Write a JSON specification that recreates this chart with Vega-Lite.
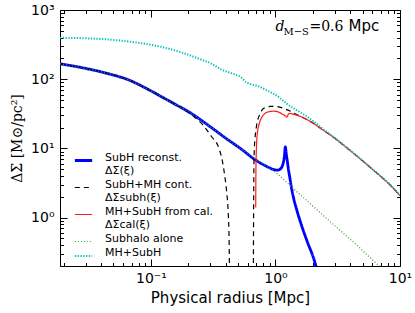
{
  "$schema": "https://vega.github.io/schema/vega-lite/v6.json",
  "width": 340,
  "height": 256,
  "autosize": {"type": "none"},
  "padding": {"left": 60, "top": 10, "right": 15, "bottom": 47},
  "config": {
    "view": {"stroke": "black", "strokeWidth": 1},
    "axis": {"grid": false, "domain": false, "tickColor": "black", "labelColor": "black", "titleColor": "black", "labelFont": "DejaVu Sans", "labelFontSize": 14, "titleFontWeight": "normal", "tickWidth": 1}
  },
  "data": {"values": [
    {"s": "SubH reconst.| ΔΣ(ξ)", "seg": 1, "r": 0.0186, "v": 167},
    {"s": "SubH reconst.| ΔΣ(ξ)", "seg": 1, "r": 0.03, "v": 143},
    {"s": "SubH reconst.| ΔΣ(ξ)", "seg": 1, "r": 0.048, "v": 117},
    {"s": "SubH reconst.| ΔΣ(ξ)", "seg": 1, "r": 0.065, "v": 99},
    {"s": "SubH reconst.| ΔΣ(ξ)", "seg": 1, "r": 0.09, "v": 75},
    {"s": "SubH reconst.| ΔΣ(ξ)", "seg": 1, "r": 0.12, "v": 56.5},
    {"s": "SubH reconst.| ΔΣ(ξ)", "seg": 1, "r": 0.16, "v": 42.5},
    {"s": "SubH reconst.| ΔΣ(ξ)", "seg": 1, "r": 0.2, "v": 34},
    {"s": "SubH reconst.| ΔΣ(ξ)", "seg": 1, "r": 0.3, "v": 20.5},
    {"s": "SubH reconst.| ΔΣ(ξ)", "seg": 1, "r": 0.4, "v": 14},
    {"s": "SubH reconst.| ΔΣ(ξ)", "seg": 1, "r": 0.53, "v": 9.8},
    {"s": "SubH reconst.| ΔΣ(ξ)", "seg": 1, "r": 0.7, "v": 6.7},
    {"s": "SubH reconst.| ΔΣ(ξ)", "seg": 1, "r": 0.85, "v": 5.5},
    {"s": "SubH reconst.| ΔΣ(ξ)", "seg": 1, "r": 0.95, "v": 5.0},
    {"s": "SubH reconst.| ΔΣ(ξ)", "seg": 1, "r": 1.04, "v": 4.85},
    {"s": "SubH reconst.| ΔΣ(ξ)", "seg": 1, "r": 1.1, "v": 5.1},
    {"s": "SubH reconst.| ΔΣ(ξ)", "seg": 1, "r": 1.15, "v": 6.0},
    {"s": "SubH reconst.| ΔΣ(ξ)", "seg": 1, "r": 1.18, "v": 7.8},
    {"s": "SubH reconst.| ΔΣ(ξ)", "seg": 1, "r": 1.2, "v": 10.5},
    {"s": "SubH reconst.| ΔΣ(ξ)", "seg": 1, "r": 1.22, "v": 8.4},
    {"s": "SubH reconst.| ΔΣ(ξ)", "seg": 1, "r": 1.25, "v": 6.2},
    {"s": "SubH reconst.| ΔΣ(ξ)", "seg": 1, "r": 1.27, "v": 5.0},
    {"s": "SubH reconst.| ΔΣ(ξ)", "seg": 1, "r": 1.3, "v": 3.9},
    {"s": "SubH reconst.| ΔΣ(ξ)", "seg": 1, "r": 1.35, "v": 2.6},
    {"s": "SubH reconst.| ΔΣ(ξ)", "seg": 1, "r": 1.4, "v": 1.9},
    {"s": "SubH reconst.| ΔΣ(ξ)", "seg": 1, "r": 1.5, "v": 1.2},
    {"s": "SubH reconst.| ΔΣ(ξ)", "seg": 1, "r": 1.62, "v": 0.77},
    {"s": "SubH reconst.| ΔΣ(ξ)", "seg": 1, "r": 1.8, "v": 0.45},
    {"s": "SubH reconst.| ΔΣ(ξ)", "seg": 1, "r": 2.06, "v": 0.234},
    {"s": "SubH reconst.| ΔΣ(ξ)", "seg": 1, "r": 2.2, "v": 0.15},

    {"s": "SubH+MH cont.| ΔΣsubh(ξ)", "seg": 1, "r": 0.0186, "v": 167},
    {"s": "SubH+MH cont.| ΔΣsubh(ξ)", "seg": 1, "r": 0.03, "v": 143},
    {"s": "SubH+MH cont.| ΔΣsubh(ξ)", "seg": 1, "r": 0.048, "v": 117},
    {"s": "SubH+MH cont.| ΔΣsubh(ξ)", "seg": 1, "r": 0.065, "v": 99},
    {"s": "SubH+MH cont.| ΔΣsubh(ξ)", "seg": 1, "r": 0.09, "v": 75},
    {"s": "SubH+MH cont.| ΔΣsubh(ξ)", "seg": 1, "r": 0.12, "v": 56.5},
    {"s": "SubH+MH cont.| ΔΣsubh(ξ)", "seg": 1, "r": 0.16, "v": 42.5},
    {"s": "SubH+MH cont.| ΔΣsubh(ξ)", "seg": 1, "r": 0.19, "v": 35},
    {"s": "SubH+MH cont.| ΔΣsubh(ξ)", "seg": 1, "r": 0.223, "v": 28.5},
    {"s": "SubH+MH cont.| ΔΣsubh(ξ)", "seg": 1, "r": 0.26, "v": 22},
    {"s": "SubH+MH cont.| ΔΣsubh(ξ)", "seg": 1, "r": 0.305, "v": 15},
    {"s": "SubH+MH cont.| ΔΣsubh(ξ)", "seg": 1, "r": 0.353, "v": 9.8},
    {"s": "SubH+MH cont.| ΔΣsubh(ξ)", "seg": 1, "r": 0.375, "v": 6.5},
    {"s": "SubH+MH cont.| ΔΣsubh(ξ)", "seg": 1, "r": 0.39, "v": 4.2},
    {"s": "SubH+MH cont.| ΔΣsubh(ξ)", "seg": 1, "r": 0.405, "v": 2.4},
    {"s": "SubH+MH cont.| ΔΣsubh(ξ)", "seg": 1, "r": 0.418, "v": 1.1},
    {"s": "SubH+MH cont.| ΔΣsubh(ξ)", "seg": 1, "r": 0.424, "v": 0.5},
    {"s": "SubH+MH cont.| ΔΣsubh(ξ)", "seg": 1, "r": 0.428, "v": 0.12},
    {"s": "SubH+MH cont.| ΔΣsubh(ξ)", "seg": 2, "r": 0.664, "v": 0.12},
    {"s": "SubH+MH cont.| ΔΣsubh(ξ)", "seg": 2, "r": 0.667, "v": 1},
    {"s": "SubH+MH cont.| ΔΣsubh(ξ)", "seg": 2, "r": 0.67, "v": 4},
    {"s": "SubH+MH cont.| ΔΣsubh(ξ)", "seg": 2, "r": 0.675, "v": 9},
    {"s": "SubH+MH cont.| ΔΣsubh(ξ)", "seg": 2, "r": 0.685, "v": 14},
    {"s": "SubH+MH cont.| ΔΣsubh(ξ)", "seg": 2, "r": 0.7, "v": 19.5},
    {"s": "SubH+MH cont.| ΔΣsubh(ξ)", "seg": 2, "r": 0.716, "v": 24.7},
    {"s": "SubH+MH cont.| ΔΣsubh(ξ)", "seg": 2, "r": 0.75, "v": 31},
    {"s": "SubH+MH cont.| ΔΣsubh(ξ)", "seg": 2, "r": 0.786, "v": 36.7},
    {"s": "SubH+MH cont.| ΔΣsubh(ξ)", "seg": 2, "r": 0.85, "v": 39.5},
    {"s": "SubH+MH cont.| ΔΣsubh(ξ)", "seg": 2, "r": 0.911, "v": 40.6},
    {"s": "SubH+MH cont.| ΔΣsubh(ξ)", "seg": 2, "r": 1.0, "v": 40.5},
    {"s": "SubH+MH cont.| ΔΣsubh(ξ)", "seg": 2, "r": 1.097, "v": 39.2},
    {"s": "SubH+MH cont.| ΔΣsubh(ξ)", "seg": 2, "r": 1.2, "v": 37},
    {"s": "SubH+MH cont.| ΔΣsubh(ξ)", "seg": 2, "r": 1.32, "v": 34.5},
    {"s": "SubH+MH cont.| ΔΣsubh(ξ)", "seg": 2, "r": 1.45, "v": 31.5},
    {"s": "SubH+MH cont.| ΔΣsubh(ξ)", "seg": 2, "r": 1.56, "v": 29.5},
    {"s": "SubH+MH cont.| ΔΣsubh(ξ)", "seg": 2, "r": 1.95, "v": 23.9},
    {"s": "SubH+MH cont.| ΔΣsubh(ξ)", "seg": 2, "r": 2.4, "v": 18.5},
    {"s": "SubH+MH cont.| ΔΣsubh(ξ)", "seg": 2, "r": 2.83, "v": 15.1},
    {"s": "SubH+MH cont.| ΔΣsubh(ξ)", "seg": 2, "r": 4.1, "v": 8.9},
    {"s": "SubH+MH cont.| ΔΣsubh(ξ)", "seg": 2, "r": 5.95, "v": 5.06},
    {"s": "SubH+MH cont.| ΔΣsubh(ξ)", "seg": 2, "r": 8.6, "v": 2.79},
    {"s": "SubH+MH cont.| ΔΣsubh(ξ)", "seg": 2, "r": 10, "v": 2.07},

    {"s": "MH+SubH from cal.| ΔΣcal(ξ)", "seg": 1, "r": 0.694, "v": 1.4},
    {"s": "MH+SubH from cal.| ΔΣcal(ξ)", "seg": 1, "r": 0.696, "v": 4},
    {"s": "MH+SubH from cal.| ΔΣcal(ξ)", "seg": 1, "r": 0.699, "v": 7},
    {"s": "MH+SubH from cal.| ΔΣcal(ξ)", "seg": 1, "r": 0.705, "v": 11.5},
    {"s": "MH+SubH from cal.| ΔΣcal(ξ)", "seg": 1, "r": 0.715, "v": 16.5},
    {"s": "MH+SubH from cal.| ΔΣcal(ξ)", "seg": 1, "r": 0.739, "v": 22.4},
    {"s": "MH+SubH from cal.| ΔΣcal(ξ)", "seg": 1, "r": 0.77, "v": 27.5},
    {"s": "MH+SubH from cal.| ΔΣcal(ξ)", "seg": 1, "r": 0.811, "v": 31.2},
    {"s": "MH+SubH from cal.| ΔΣcal(ξ)", "seg": 1, "r": 0.88, "v": 33.8},
    {"s": "MH+SubH from cal.| ΔΣcal(ξ)", "seg": 1, "r": 0.976, "v": 34.5},
    {"s": "MH+SubH from cal.| ΔΣcal(ξ)", "seg": 1, "r": 1.06, "v": 33.5},
    {"s": "MH+SubH from cal.| ΔΣcal(ξ)", "seg": 1, "r": 1.139, "v": 31.2},
    {"s": "MH+SubH from cal.| ΔΣcal(ξ)", "seg": 1, "r": 1.2, "v": 29.5},
    {"s": "MH+SubH from cal.| ΔΣcal(ξ)", "seg": 1, "r": 1.233, "v": 28.3},
    {"s": "MH+SubH from cal.| ΔΣcal(ξ)", "seg": 1, "r": 1.26, "v": 30.5},
    {"s": "MH+SubH from cal.| ΔΣcal(ξ)", "seg": 1, "r": 1.29, "v": 32},
    {"s": "MH+SubH from cal.| ΔΣcal(ξ)", "seg": 1, "r": 1.35, "v": 31.6},
    {"s": "MH+SubH from cal.| ΔΣcal(ξ)", "seg": 1, "r": 1.5, "v": 30},
    {"s": "MH+SubH from cal.| ΔΣcal(ξ)", "seg": 1, "r": 1.95, "v": 23.9},
    {"s": "MH+SubH from cal.| ΔΣcal(ξ)", "seg": 1, "r": 2.4, "v": 18.5},
    {"s": "MH+SubH from cal.| ΔΣcal(ξ)", "seg": 1, "r": 2.83, "v": 15.1},
    {"s": "MH+SubH from cal.| ΔΣcal(ξ)", "seg": 1, "r": 4.1, "v": 8.9},
    {"s": "MH+SubH from cal.| ΔΣcal(ξ)", "seg": 1, "r": 5.95, "v": 5.06},
    {"s": "MH+SubH from cal.| ΔΣcal(ξ)", "seg": 1, "r": 8.6, "v": 2.79},
    {"s": "MH+SubH from cal.| ΔΣcal(ξ)", "seg": 1, "r": 10, "v": 2.07},

    {"s": "Subhalo alone", "seg": 1, "r": 0.0186, "v": 167},
    {"s": "Subhalo alone", "seg": 1, "r": 0.03, "v": 143},
    {"s": "Subhalo alone", "seg": 1, "r": 0.048, "v": 117},
    {"s": "Subhalo alone", "seg": 1, "r": 0.065, "v": 99},
    {"s": "Subhalo alone", "seg": 1, "r": 0.09, "v": 75},
    {"s": "Subhalo alone", "seg": 1, "r": 0.12, "v": 56.5},
    {"s": "Subhalo alone", "seg": 1, "r": 0.16, "v": 42.5},
    {"s": "Subhalo alone", "seg": 1, "r": 0.2, "v": 34},
    {"s": "Subhalo alone", "seg": 1, "r": 0.3, "v": 20.5},
    {"s": "Subhalo alone", "seg": 1, "r": 0.4, "v": 14},
    {"s": "Subhalo alone", "seg": 1, "r": 0.53, "v": 9.8},
    {"s": "Subhalo alone", "seg": 1, "r": 0.7, "v": 7.0},
    {"s": "Subhalo alone", "seg": 1, "r": 0.85, "v": 5.5},
    {"s": "Subhalo alone", "seg": 1, "r": 1.0, "v": 4.5},
    {"s": "Subhalo alone", "seg": 1, "r": 1.35, "v": 2.76},
    {"s": "Subhalo alone", "seg": 1, "r": 1.78, "v": 1.77},
    {"s": "Subhalo alone", "seg": 1, "r": 2.5, "v": 1.02},
    {"s": "Subhalo alone", "seg": 1, "r": 3.41, "v": 0.62},
    {"s": "Subhalo alone", "seg": 1, "r": 4.5, "v": 0.4},
    {"s": "Subhalo alone", "seg": 1, "r": 6.14, "v": 0.237},
    {"s": "Subhalo alone", "seg": 1, "r": 7.5, "v": 0.172},

    {"s": "MH+SubH", "seg": 1, "r": 0.0186, "v": 396},
    {"s": "MH+SubH", "seg": 1, "r": 0.03, "v": 390},
    {"s": "MH+SubH", "seg": 1, "r": 0.048, "v": 372},
    {"s": "MH+SubH", "seg": 1, "r": 0.08, "v": 335},
    {"s": "MH+SubH", "seg": 1, "r": 0.12, "v": 295},
    {"s": "MH+SubH", "seg": 1, "r": 0.18, "v": 240},
    {"s": "MH+SubH", "seg": 1, "r": 0.253, "v": 192},
    {"s": "MH+SubH", "seg": 1, "r": 0.305, "v": 168},
    {"s": "MH+SubH", "seg": 1, "r": 0.367, "v": 138},
    {"s": "MH+SubH", "seg": 1, "r": 0.45, "v": 121},
    {"s": "MH+SubH", "seg": 1, "r": 0.53, "v": 106},
    {"s": "MH+SubH", "seg": 1, "r": 0.584, "v": 90},
    {"s": "MH+SubH", "seg": 1, "r": 0.65, "v": 84},
    {"s": "MH+SubH", "seg": 1, "r": 0.725, "v": 79.4},
    {"s": "MH+SubH", "seg": 1, "r": 0.85, "v": 69},
    {"s": "MH+SubH", "seg": 1, "r": 1.05, "v": 56},
    {"s": "MH+SubH", "seg": 1, "r": 1.2, "v": 46},
    {"s": "MH+SubH", "seg": 1, "r": 1.35, "v": 39.5},
    {"s": "MH+SubH", "seg": 1, "r": 1.62, "v": 32.5},
    {"s": "MH+SubH", "seg": 1, "r": 2.0, "v": 25},
    {"s": "MH+SubH", "seg": 1, "r": 2.4, "v": 19.2},
    {"s": "MH+SubH", "seg": 1, "r": 2.83, "v": 15.3},
    {"s": "MH+SubH", "seg": 1, "r": 4.1, "v": 9.0},
    {"s": "MH+SubH", "seg": 1, "r": 5.95, "v": 5.1},
    {"s": "MH+SubH", "seg": 1, "r": 8.6, "v": 2.82},
    {"s": "MH+SubH", "seg": 1, "r": 10, "v": 2.09}
  ]},
  "layer": [
    {
      "mark": {"type": "line", "clip": true, "interpolate": "monotone"},
      "encoding": {
        "x": {
          "field": "r", "type": "quantitative",
          "scale": {"type": "log", "domain": [0.0186, 10], "nice": false},
          "axis": {
            "orient": "bottom",
            "values": [0.02, 0.03, 0.04, 0.05, 0.06, 0.07, 0.08, 0.09, 0.1, 0.2, 0.3, 0.4, 0.5, 0.6, 0.7, 0.8, 0.9, 1, 2, 3, 4, 5, 6, 7, 8, 9, 10],
            "labelExpr": "datum.value == 0.1 ? '10⁻¹' : datum.value == 1 ? '10⁰' : datum.value == 10 ? '10¹' : ''",
            "tickSize": {"condition": {"test": "datum.value == 0.1 || datum.value == 1 || datum.value == 10", "value": -7}, "value": -3.5},
            "labelPadding": 12,
            "labelFlush": false,
            "labelOverlap": false,
            "title": "Physical radius [Mpc]",
            "titleFont": "DejaVu Sans",
            "titleFontSize": 15,
            "titlePadding": 2
          }
        },
        "y": {
          "field": "v", "type": "quantitative",
          "scale": {"type": "log", "domain": [0.2, 1000], "nice": false},
          "axis": {
            "orient": "left",
            "values": [0.2, 0.3, 0.4, 0.5, 0.6, 0.7, 0.8, 0.9, 1, 2, 3, 4, 5, 6, 7, 8, 9, 10, 20, 30, 40, 50, 60, 70, 80, 90, 100, 200, 300, 400, 500, 600, 700, 800, 900, 1000],
            "labelExpr": "datum.value == 1 ? '10⁰' : datum.value == 10 ? '10¹' : datum.value == 100 ? '10²' : datum.value == 1000 ? '10³' : ''",
            "tickSize": {"condition": {"test": "datum.value == 1 || datum.value == 10 || datum.value == 100 || datum.value == 1000", "value": -7}, "value": -3.5},
            "labelPadding": 13,
            "labelFlush": false,
            "labelOverlap": false,
            "title": "ΔΣ [M⊙/pc²]",
            "titleFont": "DejaVu Serif",
            "titleFontSize": 14,
            "titlePadding": 6
          }
        },
        "color": {
          "field": "s", "type": "nominal",
          "scale": {
            "domain": ["SubH reconst.| ΔΣ(ξ)", "SubH+MH cont.| ΔΣsubh(ξ)", "MH+SubH from cal.| ΔΣcal(ξ)", "Subhalo alone", "MH+SubH"],
            "range": ["#0000ff", "#000000", "#ff1a1a", "#2f9f2f", "#00c0c0"]
          },
          "legend": {
            "title": null,
            "orient": "none",
            "legendX": 13,
            "legendY": 140,
            "symbolType": "stroke",
            "symbolSize": 300,
            "labelExpr": "split(datum.label, '|')",
            "labelFont": "DejaVu Sans",
            "labelFontSize": 11,
            "labelColor": "black",
            "labelOffset": 11,
            "labelLimit": 300,
            "labelBaseline": "alphabetic",
            "gridAlign": "none",
            "rowPadding": 2,
            "padding": 0
          }
        },
        "strokeDash": {
          "field": "s", "type": "nominal",
          "scale": {
            "domain": ["SubH reconst.| ΔΣ(ξ)", "SubH+MH cont.| ΔΣsubh(ξ)", "MH+SubH from cal.| ΔΣcal(ξ)", "Subhalo alone", "MH+SubH"],
            "range": [[1, 0], [5, 4], [1, 0], [1, 2], [1.3, 1.5]]
          }
        },
        "strokeWidth": {
          "field": "s", "type": "nominal",
          "scale": {
            "type": "ordinal",
            "domain": ["SubH reconst.| ΔΣ(ξ)", "SubH+MH cont.| ΔΣsubh(ξ)", "MH+SubH from cal.| ΔΣcal(ξ)", "Subhalo alone", "MH+SubH"],
            "range": [2.8, 1.2, 1.2, 1.2, 2]
          }
        },
        "detail": {"field": "seg", "type": "nominal"}
      }
    },
    {
      "mark": {"type": "point", "opacity": 0, "clip": true},
      "encoding": {
        "x": {
          "field": "r", "type": "quantitative",
          "axis": {
            "orient": "top",
            "values": [0.02, 0.03, 0.04, 0.05, 0.06, 0.07, 0.08, 0.09, 0.1, 0.2, 0.3, 0.4, 0.5, 0.6, 0.7, 0.8, 0.9, 1, 2, 3, 4, 5, 6, 7, 8, 9, 10],
            "labels": false,
            "tickSize": {"condition": {"test": "datum.value == 0.1 || datum.value == 1 || datum.value == 10", "value": -7}, "value": -3.5},
            "title": null
          }
        },
        "y": {
          "field": "v", "type": "quantitative",
          "axis": {
            "orient": "right",
            "values": [0.2, 0.3, 0.4, 0.5, 0.6, 0.7, 0.8, 0.9, 1, 2, 3, 4, 5, 6, 7, 8, 9, 10, 20, 30, 40, 50, 60, 70, 80, 90, 100, 200, 300, 400, 500, 600, 700, 800, 900, 1000],
            "labels": false,
            "tickSize": {"condition": {"test": "datum.value == 1 || datum.value == 10 || datum.value == 100 || datum.value == 1000", "value": -7}, "value": -3.5},
            "title": null
          }
        }
      }
    },
    {
      "data": {"values": [{}]},
      "mark": {"type": "text", "align": "left", "baseline": "alphabetic", "font": "DejaVu Serif", "fontStyle": "italic", "fontSize": 14, "text": "d"},
      "encoding": {"x": {"datum": 1, "type": "quantitative", "axis": null}, "y": {"datum": 500, "type": "quantitative", "axis": null}}
    },
    {
      "data": {"values": [{}]},
      "mark": {"type": "text", "align": "left", "baseline": "alphabetic", "font": "DejaVu Serif", "fontSize": 10, "dx": 8, "dy": 4, "text": "M−S"},
      "encoding": {"x": {"datum": 1, "type": "quantitative", "axis": null}, "y": {"datum": 500, "type": "quantitative", "axis": null}}
    },
    {
      "data": {"values": [{}]},
      "mark": {"type": "text", "align": "left", "baseline": "alphabetic", "font": "DejaVu Serif", "fontSize": 14, "dx": 34, "text": "=0.6"},
      "encoding": {"x": {"datum": 1, "type": "quantitative", "axis": null}, "y": {"datum": 500, "type": "quantitative", "axis": null}}
    },
    {
      "data": {"values": [{}]},
      "mark": {"type": "text", "align": "left", "baseline": "alphabetic", "font": "DejaVu Sans", "fontSize": 15, "dx": 73, "text": "Mpc"},
      "encoding": {"x": {"datum": 1, "type": "quantitative", "axis": null}, "y": {"datum": 500, "type": "quantitative", "axis": null}}
    }
  ],
  "resolve": {"axis": {"x": "independent", "y": "independent"}}
}
